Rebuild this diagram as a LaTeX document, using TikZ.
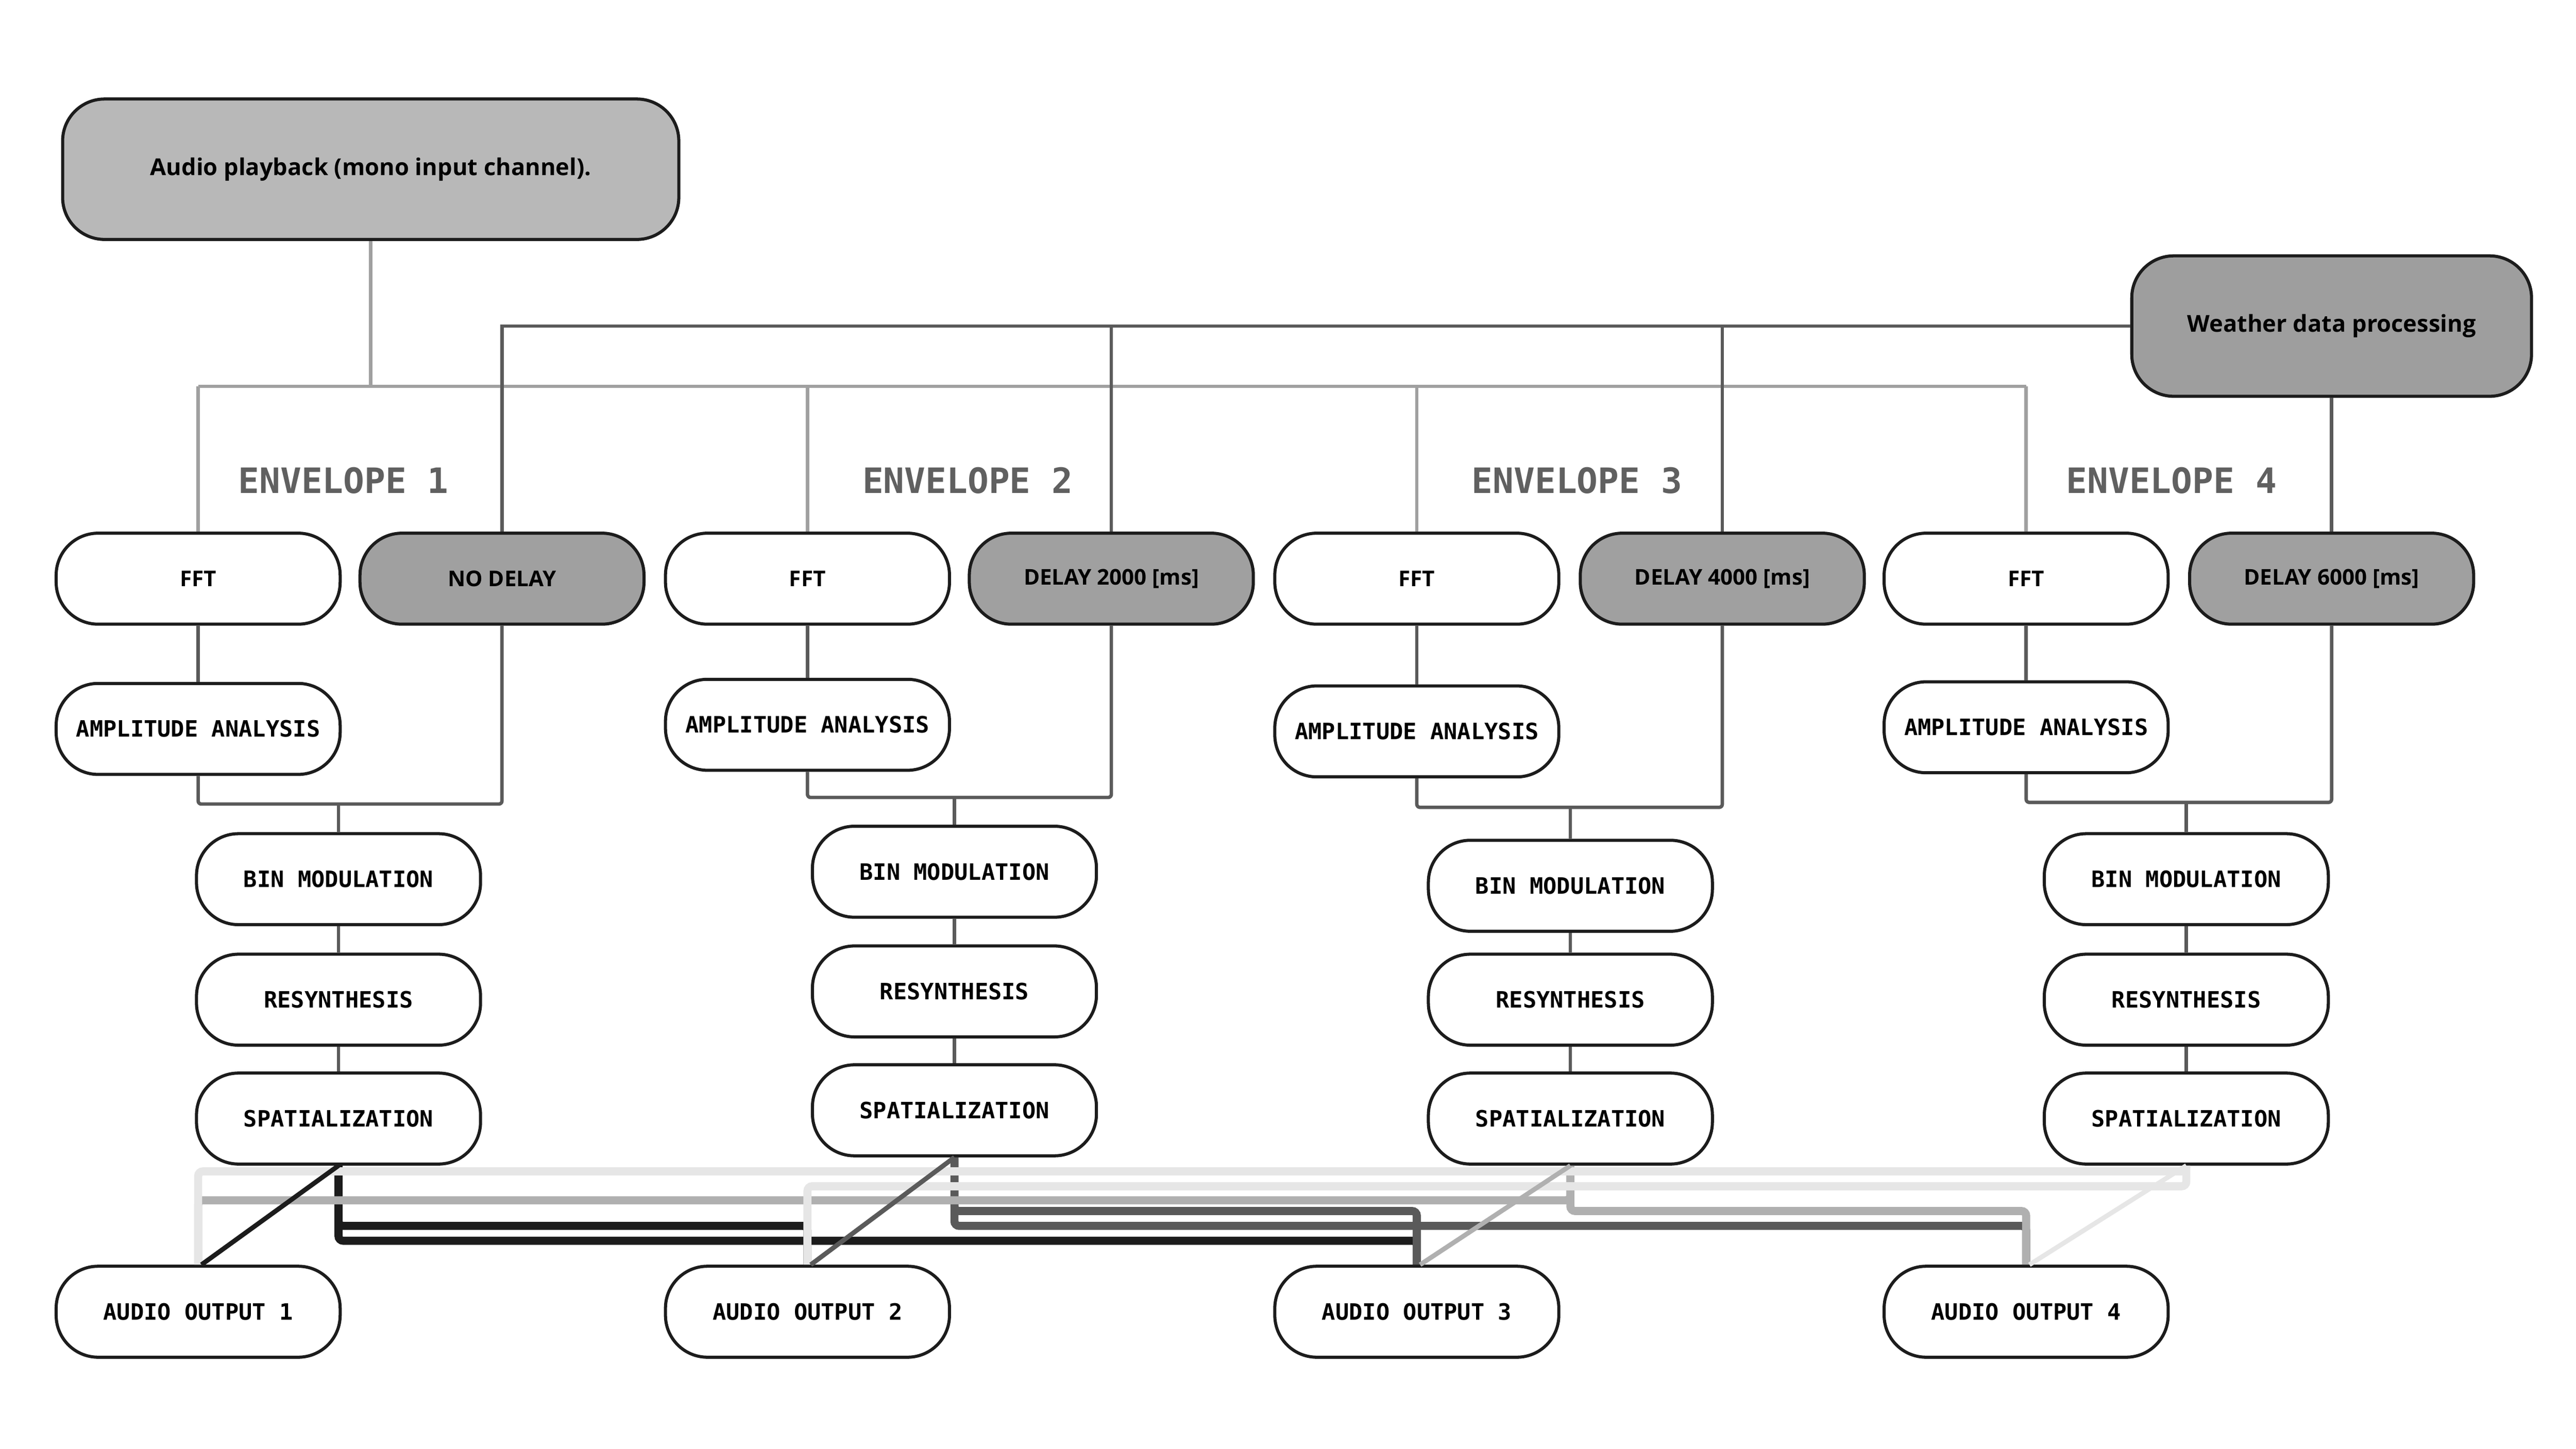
\documentclass[tikz,border=0pt]{standalone}
\usepackage{fontspec}
\setmainfont{Open Sans}
\newfontfamily\monof{DejaVu Sans Mono}
\newfontfamily\sansf{Open Sans}
\usetikzlibrary{calc}
\definecolor{cA}{HTML}{1C1C1C}
\definecolor{cB}{HTML}{5A5A5A}
\definecolor{cC}{HTML}{B0B0B0}
\definecolor{cD}{HTML}{E6E6E6}
\definecolor{busg}{HTML}{A0A0A0}
\definecolor{envg}{HTML}{606060}
\definecolor{pbfill}{HTML}{B8B8B8}
\definecolor{wxfill}{HTML}{9E9E9E}
\definecolor{delfill}{HTML}{A0A0A0}
\begin{document}
\begin{tikzpicture}[x=0.037391cm,y=-0.037391cm,
  box/.style={draw=cA,line width=2pt,rounded corners=0.95cm,minimum width=6.43cm,minimum height=2.06cm,inner sep=0pt,fill=white,align=center},
  mono/.style={box,font=\monof\bfseries\fontsize{14.5}{16}\selectfont},
  sans/.style={box,font=\sansf\bfseries\fontsize{14}{16}\selectfont},
  delay/.style={sans,fill=delfill},
  big/.style={draw=cA,line width=2pt,rounded corners=0.95cm,inner sep=0pt,font=\sansf\bfseries\fontsize{15}{18}\selectfont},
  env/.style={font=\monof\bfseries\fontsize{22.5}{26}\selectfont,text=envg},
  bus/.style={line width=2.2pt,draw=busg},
  wl/.style={line width=2.2pt,draw=cB},
  il/.style={line width=2.2pt,draw=cB,rounded corners=2pt},
  band/.style={line width=5.2pt,rounded corners=3pt},
  diag/.style={line width=3pt}]
\useasboundingbox (0,0) rectangle (1560,877.5);
\node[big,fill=pbfill,minimum width=13.95cm,minimum height=3.18cm] (pb) at (224.5,102.5) {Audio playback (mono input channel).};
\node[big,fill=wxfill,minimum width=9.05cm,minimum height=3.18cm] (wx) at (1412,197.5) {Weather data processing};
\coordinate (bus) at (0,234);
\foreach \i/\fx/\dx/\bx/\ay/\my/\by/\ry/\sy/\ex/\dl in {
 1/120/304/205/441.5/487/532.5/605.5/677.5/208/NO DELAY,
 2/489/673/578/439/483/528/600.5/672.5/586/DELAY 2000 [ms],
 3/858/1043/951/443/489/536.5/605.5/677.5/955/DELAY 4000 [ms],
 4/1227/1412/1324/440.5/486/532.5/605.5/677.5/1315/DELAY 6000 [ms]}{
  \node[sans] (fft\i) at (\fx,350.5) {FFT};
  \node[delay] (del\i) at (\dx,350.5) {\dl};
  \node[env] (env\i) at (\ex,291) {ENVELOPE \i};
  \node[mono] (amp\i) at (\fx,\ay) {AMPLITUDE ANALYSIS};
  \node[mono] (bin\i) at (\bx,\by) {BIN MODULATION};
  \node[mono] (res\i) at (\bx,\ry) {RESYNTHESIS};
  \node[mono] (sp\i) at (\bx,\sy) {SPATIALIZATION};
  \node[mono] (out\i) at (\fx,794.5) {AUDIO OUTPUT \i};
  \coordinate (m\i) at (\bx,\my);
  \draw[il] (fft\i) -- (amp\i);
  \draw[il] (amp\i.south) |- (m\i) -| (del\i.south);
  \draw[il] (bin\i.north) -- (m\i);
  \draw[il] (bin\i) -- (res\i);
  \draw[il] (res\i) -- (sp\i);
  \draw[bus] (fft\i.north) -- (fft\i.north |- bus);
}
\draw[bus] (pb.south) -- (pb.south |- bus);
\draw[bus] (fft1.north |- bus) -- (fft4.north |- bus);
\draw[wl] (wx.west) -| (del1.north);
\draw[wl] (del2.north) -- (del2.north |- wx.west);
\draw[wl] (del3.north) -- (del3.north |- wx.west);
\draw[wl] (wx.south) -- (del4.north);
% output routing
\coordinate (r1) at (0,709.5);
\coordinate (r2) at (0,718.5);
\coordinate (r3) at (0,727);
\coordinate (r4) at (0,733.5);
\coordinate (r5) at (0,742.5);
\coordinate (r6) at (0,751.5);
\draw[band,cA] (sp1.south) |- (r5 -| out2.north) -- (out2.north);
\draw[band,cA] (sp1.south) |- (r6 -| out3.north) -- (out3.north);
\draw[band,cB] (sp2.south) |- (r4 -| out3.north) -- (out3.north);
\draw[band,cB] (sp2.south) |- (r5 -| out4.north) -- (out4.north);
\draw[band,cC] (sp3.south) |- (r3 -| out1.north) -- (out1.north);
\draw[band,cC] (sp3.south) |- (r4 -| out4.north) -- (out4.north);
\draw[band,cD] (sp4.south) |- (r1 -| out1.north) -- (out1.north);
\draw[band,cD] (sp4.south) |- (r2 -| out2.north) -- (out2.north);
\draw[diag,cA] (sp1.south) -- ($(out1.north)+(2,0)$);
\draw[diag,cB] (sp2.south) -- ($(out2.north)+(2,0)$);
\draw[diag,cC] (sp3.south) -- ($(out3.north)+(2,0)$);
\draw[diag,cD] (sp4.south) -- ($(out4.north)+(2,0)$);
\end{tikzpicture}
\end{document}
